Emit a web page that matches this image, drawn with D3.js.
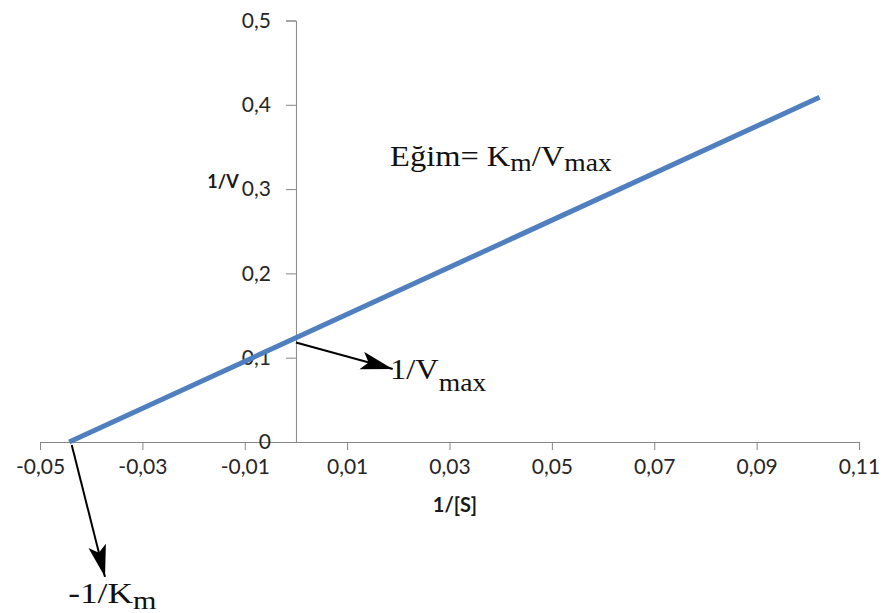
<!DOCTYPE html>
<html>
<head>
<meta charset="utf-8">
<script src="https://cdn.jsdelivr.net/npm/d3@7"></script>
<style>
  body { margin: 0; background: #fff; }
  svg { display: block; }
</style>
</head>
<body>
<svg id="chart" width="889" height="613"></svg>
<script>
// ---- data ----
const xTicks = [-0.05, -0.03, -0.01, 0.01, 0.03, 0.05, 0.07, 0.09, 0.11];
const yTicks = [0, 0.1, 0.2, 0.3, 0.4, 0.5];
const lineX = [-0.0443, 0.1023];
const lineY = [0, 0.409];
const xTitle = "1/[S]";
const yTitle = "1/V";
// annotation arrows: [x1, y1, x2, y2] in data units
const arrowVmax = [0, 0.118, 0.0189, 0.0866];
const arrowKm = [-0.0438, -0.0036, -0.0373, -0.160];

const svg = d3.select("#chart");
const x = d3.scaleLinear().domain([-0.05, 0.11]).range([40, 859]);
const y = d3.scaleLinear().domain([0, 0.5]).range([442, 20.5]);
const axisColor = "#868686";
const labelFont = "Lato, 'Open Sans', sans-serif";

// arrow marker
svg.append("defs").append("marker")
  .attr("id", "ah").attr("markerUnits", "userSpaceOnUse")
  .attr("markerWidth", 34).attr("markerHeight", 20)
  .attr("refX", 32).attr("refY", 9).attr("orient", "auto")
  .append("path").attr("d", "M0,0 L32,9 L0,18 L7,9 Z").attr("fill", "#000");

// x axis
const gx = svg.append("g").attr("transform", `translate(0,${y(0)})`)
  .call(d3.axisBottom(x).tickValues(xTicks).tickSize(8).tickPadding(9)
    .tickFormat(d => d3.format(".2f")(d).replace(".", ",").replace("\u2212", "-")));
gx.select(".domain").attr("stroke", axisColor);
gx.selectAll(".tick line").attr("stroke", axisColor);
gx.selectAll(".tick text").attr("fill", "#262626").style("font-family", labelFont).style("font-size", "21px");

// y axis
const gy = svg.append("g").attr("transform", `translate(${x(0)},0)`)
  .call(d3.axisLeft(y).tickValues(yTicks).tickSize(10).tickPadding(15)
    .tickFormat(d => d === 0 ? "0" : d3.format(".1f")(d).replace(".", ",")));
gy.select(".domain").attr("stroke", axisColor);
gy.selectAll(".tick line").attr("stroke", axisColor);
gy.selectAll(".tick text").attr("fill", "#262626").style("font-family", labelFont).style("font-size", "21px");

// axis titles
svg.append("text").attr("x", 223).attr("y", 188).attr("text-anchor", "middle")
  .style("font-family", labelFont).style("font-size", "18px").style("font-weight", "bold")
  .attr("fill", "#1a1a1a").text(yTitle);
svg.append("text").attr("x", 455).attr("y", 512).attr("text-anchor", "middle")
  .style("font-family", labelFont).style("font-size", "20px").style("font-weight", "bold")
  .attr("fill", "#1a1a1a").text(xTitle);

// data line
const pts = lineX.map((d, i) => [d, lineY[i]]);
svg.append("path").datum(pts)
  .attr("d", d3.line().x(d => x(d[0])).y(d => y(d[1])))
  .attr("fill", "none").attr("stroke", "#4F7FBE").attr("stroke-width", 5);

// arrows
[arrowVmax, arrowKm].forEach(a => {
  svg.append("line")
    .attr("x1", x(a[0])).attr("y1", y(a[1])).attr("x2", x(a[2])).attr("y2", y(a[3]))
    .attr("stroke", "#000").attr("stroke-width", 2).attr("marker-end", "url(#ah)");
});

// annotation texts
const serif = "'Liberation Serif', 'DejaVu Serif', serif";
function subText(xv, yv, size, subShift, stretch, parts) {
  const px = x(xv), py = y(yv);
  const t = svg.append("text").attr("x", 0).attr("y", 0)
    .attr("transform", `translate(${px},${py}) scale(${stretch},1)`)
    .style("font-family", serif).style("font-size", size + "px").attr("fill", "#111");
  let shift = 0;
  parts.forEach(p => {
    const target = p.sub ? subShift : 0;
    t.append("tspan").attr("dy", target - shift)
      .style("font-size", (p.sub ? size * 0.85 : size) + "px").text(p.t);
    shift = target;
  });
}
subText(0.0184, 0.3274, 29, 5, 1.12, [{t: "Eğim= K"}, {t: "m", sub: true}, {t: "/V"}, {t: "max", sub: true}]);
subText(0.0184, 0.0747, 29, 12, 1.12, [{t: "1/V"}, {t: "max", sub: true}]);
subText(-0.0445, -0.1910, 29, 6, 1.22, [{t: "-1/K"}, {t: "m", sub: true}]);
</script>
</body>
</html>
